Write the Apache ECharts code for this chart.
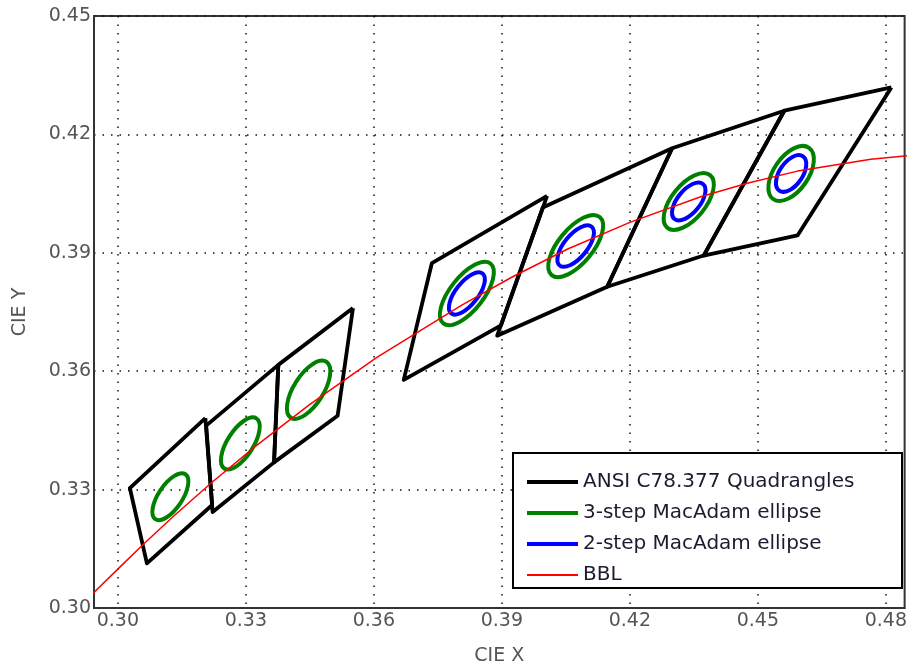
<!DOCTYPE html>
<html><head><meta charset="utf-8">
<script src="https://cdn.jsdelivr.net/npm/echarts@6/dist/echarts.min.js"></script>
<style>html,body{margin:0;padding:0;background:#fff}#c{width:910px;height:671px}</style>
</head><body><div id="c"></div>
<script>
// ---- axis ticks ----
const xTicks = [0.30, 0.33, 0.36, 0.39, 0.42, 0.45, 0.48];
const yTicks = [0.30, 0.33, 0.36, 0.39, 0.42, 0.45];

// ---- ANSI C78.377 quadrangles (corner x / y) ----
const quadNames = ['6500K', '5700K', '5000K', '4000K', '3500K', '3000K', '2700K'];
const quadX = [
  [0.3205, 0.3028, 0.3068, 0.3221, 0.3205],
  [0.3376, 0.3207, 0.3222, 0.3366, 0.3376],
  [0.3551, 0.3376, 0.3366, 0.3515, 0.3551],
  [0.4006, 0.3736, 0.3670, 0.3898, 0.4006],
  [0.4299, 0.3996, 0.3889, 0.4147, 0.4299],
  [0.4562, 0.4299, 0.4147, 0.4373, 0.4562],
  [0.4813, 0.4562, 0.4373, 0.4593, 0.4813]
];
const quadY = [
  [0.3481, 0.3304, 0.3113, 0.3261, 0.3481],
  [0.3616, 0.3462, 0.3243, 0.3369, 0.3616],
  [0.3760, 0.3616, 0.3369, 0.3487, 0.3760],
  [0.4044, 0.3874, 0.3578, 0.3716, 0.4044],
  [0.4165, 0.4015, 0.3690, 0.3814, 0.4165],
  [0.4260, 0.4165, 0.3814, 0.3893, 0.4260],
  [0.4319, 0.4260, 0.3893, 0.3944, 0.4319]
];

// ---- MacAdam ellipses (centre, 1-step semi-axes, tilt in degrees) ----
const ellipseCX = [0.3123, 0.3287, 0.3447, 0.3818, 0.4073, 0.4338, 0.4578];
const ellipseCY = [0.3282, 0.3417, 0.3553, 0.3797, 0.3917, 0.4030, 0.4101];
const ellipseA1 = [0.00223, 0.00246, 0.00274, 0.00313, 0.00309, 0.00278, 0.00258];
const ellipseB1 = [0.00095, 0.00103, 0.00118, 0.00134, 0.00138, 0.00136, 0.00137];
const ellipseTheta = [58.23, 59.37, 59.62, 54.00, 52.58, 53.13, 57.28];
const threeStepIdx = [0, 1, 2, 3, 4, 5, 6];
const twoStepIdx = [3, 4, 5, 6];

// ---- Black body locus ----
const bblX = [0.2908, 0.2952, 0.3004, 0.3064, 0.3135, 0.3220, 0.3323, 0.3450, 0.3607, 0.3805, 0.3923, 0.4053, 0.4200, 0.4366, 0.4475, 0.4593, 0.4765, 0.4857];
const bblY = [0.2999, 0.3048, 0.3103, 0.3166, 0.3237, 0.3318, 0.3410, 0.3516, 0.3635, 0.3767, 0.3838, 0.3909, 0.3977, 0.4042, 0.4076, 0.4107, 0.4137, 0.4147];

const NAME_Q = 'ANSI C78.377 Quadrangles';
const NAME_3 = '3-step MacAdam ellipse';
const NAME_2 = '2-step MacAdam ellipse';
const NAME_B = 'BBL';
const FONT = 'DejaVu Sans';

function ellipseSeries(name, steps, idx, color) {
  return {
    type: 'custom', name: name, coordinateSystem: 'cartesian2d', silent: true,
    itemStyle: { color: color }, z: 3,
    encode: { x: 0, y: 1 },
    data: idx.map(i => [ellipseCX[i], ellipseCY[i], ellipseA1[i] * steps, ellipseB1[i] * steps, ellipseTheta[i]]),
    renderItem: function (params, api) {
      const c = api.coord([api.value(0), api.value(1)]);
      const s = api.size([0.01, 0.01]);
      const sx = s[0] / 0.01, sy = s[1] / 0.01;
      const a = api.value(2), b = api.value(3), th = api.value(4) * Math.PI / 180;
      const mx = a * Math.cos(th) * sx, my = a * Math.sin(th) * sy;
      const nx = -b * Math.sin(th) * sx, ny = b * Math.cos(th) * sy;
      return {
        type: 'ellipse', x: c[0], y: c[1], rotation: Math.atan2(my, mx),
        shape: { cx: 0, cy: 0, rx: Math.hypot(mx, my), ry: Math.hypot(nx, ny) },
        style: { fill: 'none', stroke: color, lineWidth: 4 }
      };
    }
  };
}

const series = [];
quadX.forEach((xs, q) => {
  series.push({
    type: 'line', name: NAME_Q, symbol: 'none', silent: true, z: 2,
    lineStyle: { color: '#000', width: 3.8, join: 'round' },
    itemStyle: { color: '#000' },
    data: xs.map((x, k) => [x, quadY[q][k]])
  });
});
series.push(ellipseSeries(NAME_3, 3, threeStepIdx, '#008000'));
series.push(ellipseSeries(NAME_2, 2, twoStepIdx, '#0000ff'));
series.push({
  type: 'line', name: NAME_B, symbol: 'none', silent: true, z: 4, smooth: false,
  lineStyle: { color: '#ff0000', width: 1.5 }, itemStyle: { color: '#ff0000' },
  data: bblX.map((x, k) => [x, bblY[k]])
});

const dotted = { color: '#111', width: 1.5, type: [1.5, 7] };

const chart = echarts.init(document.getElementById('c'), null, { renderer: 'canvas' });
chart.setOption({
  animation: false,
  backgroundColor: '#fff',
  grid: { left: 94, right: 3, top: 16, bottom: 59, show: true, borderColor: '#333', borderWidth: 2, backgroundColor: 'transparent' },
  xAxis: {
    type: 'value', min: 0.2944, max: 0.4844,
    name: 'CIE X', nameLocation: 'middle', nameGap: 39,
    nameTextStyle: { fontFamily: FONT, fontSize: 19, color: '#555' },
    axisLine: { show: true, lineStyle: { color: '#333', width: 2 } },
    axisTick: { show: false, customValues: xTicks },
    axisLabel: { customValues: xTicks, margin: 4, fontFamily: FONT, fontSize: 19, color: '#555', formatter: v => v.toFixed(2) },
    splitLine: { show: true, lineStyle: dotted }
  },
  yAxis: {
    type: 'value', min: 0.30, max: 0.45,
    name: 'CIE Y', nameLocation: 'middle', nameGap: 64,
    nameTextStyle: { fontFamily: FONT, fontSize: 19, color: '#555' },
    axisLine: { show: true, lineStyle: { color: '#333', width: 2 } },
    axisTick: { show: false, customValues: yTicks },
    axisLabel: { customValues: yTicks, margin: 3, fontFamily: FONT, fontSize: 19, color: '#555', formatter: v => v.toFixed(2) },
    splitLine: { show: true, lineStyle: dotted }
  },
  graphic: [{
    type: 'rect', z: 5,
    shape: { x: 513, y: 453, width: 389, height: 135 },
    style: { fill: '#fff', stroke: '#000', lineWidth: 2 }
  }],
  legend: {
    orient: 'vertical', left: 527, top: 472, padding: 0, z: 10,
    itemWidth: 51, itemHeight: 4, itemGap: 11, itemTextGap: 10, selectedMode: false,
    symbolKeepAspect: true,
    textStyle: { fontFamily: FONT, fontSize: 20, color: '#1c1c30', lineHeight: 20 },
    data: [
      { name: NAME_Q, icon: 'rect' },
      { name: NAME_3, icon: 'rect' },
      { name: NAME_2, icon: 'rect' },
      { name: NAME_B, icon: 'path://M0,0L51,0L51,2L0,2Z' }
    ]
  },
  series: series
});
</script></body></html>
